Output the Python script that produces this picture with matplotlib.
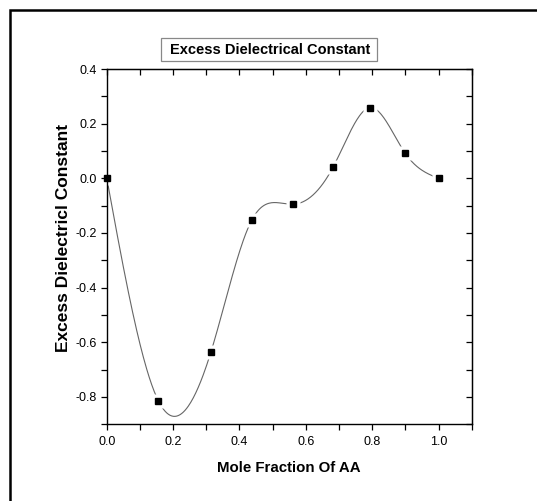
import numpy as np
import matplotlib; matplotlib.use("Agg")
import matplotlib.pyplot as plt
from matplotlib.patches import Rectangle
from matplotlib.ticker import MultipleLocator, FormatStrFormatter

# data
mole_frac = [0.0, 0.155, 0.314, 0.437, 0.562, 0.683, 0.794, 0.900, 1.0]
excess_eps = [0.0, -0.813, -0.635, -0.153, -0.095, 0.043, 0.259, 0.091, 0.0]
TITLE = "Excess Dielectrical Constant"
XLAB = "Mole Fraction Of AA"
YLAB = "Excess Dielectricl Constant"

FONT = "Liberation Sans"
plt.rcParams["axes.unicode_minus"] = False

def natural_spline(x, y, n=400):
    x = np.asarray(x, float); y = np.asarray(y, float)
    h = np.diff(x); k = len(x)
    A = np.zeros((k, k)); b = np.zeros(k)
    A[0, 0] = A[-1, -1] = 1
    for i in range(1, k - 1):
        A[i, i-1] = h[i-1]; A[i, i] = 2*(h[i-1]+h[i]); A[i, i+1] = h[i]
        b[i] = 6*((y[i+1]-y[i])/h[i] - (y[i]-y[i-1])/h[i-1])
    M = np.linalg.solve(A, b)
    xs = np.linspace(x[0], x[-1], n)
    j = np.clip(np.searchsorted(x, xs) - 1, 0, k - 2)
    hj = h[j]; a = x[j+1]-xs; c = xs-x[j]
    ys = (M[j]*a**3/(6*hj) + M[j+1]*c**3/(6*hj)
          + (y[j]/hj - M[j]*hj/6)*a + (y[j+1]/hj - M[j+1]*hj/6)*c)
    return xs, ys

W, H = 537, 501
fig = plt.figure(figsize=(W/100, H/100), dpi=100)
ax = fig.add_axes([106.8/W, 1-424.3/H, (471.7-106.8)/W, (424.3-69)/H])

xs, ys = natural_spline(mole_frac, excess_eps)
ax.plot(xs, ys, color="#666666", lw=0.8, zorder=1)
# white halo gives the Origin-style gap around symbols
ax.plot(mole_frac, excess_eps, ls="none", marker="s", ms=9.5, mfc="white", mec="none", zorder=1.5)
ax.plot(mole_frac, excess_eps, ls="none", marker="s", ms=5, mfc="black", mec="black", zorder=3, clip_on=False)

ax.set_xlim(0, 1.1); ax.set_ylim(-0.9, 0.4)
ax.xaxis.set_major_locator(MultipleLocator(0.2)); ax.xaxis.set_minor_locator(MultipleLocator(0.1))
ax.yaxis.set_major_locator(MultipleLocator(0.2)); ax.yaxis.set_minor_locator(MultipleLocator(0.1))
ax.xaxis.set_major_formatter(FormatStrFormatter("%.1f"))
ax.yaxis.set_major_formatter(FormatStrFormatter("%.1f"))
for s in ax.spines.values(): s.set_linewidth(1.0)
ax.tick_params(which="both", direction="out", length=4, width=0.9, top=False, right=False)
ax.tick_params(axis="x", which="major", pad=4.5)
ax.tick_params(axis="y", which="major", pad=3)
for lab in ax.get_xticklabels() + ax.get_yticklabels():
    lab.set_fontfamily(FONT); lab.set_fontsize(9)
# inward ticks on top/right
ax2 = ax.secondary_xaxis("top"); ax3 = ax.secondary_yaxis("right")
for sa, axis in ((ax2, ax2.xaxis), (ax3, ax3.yaxis)):
    axis.set_major_locator(MultipleLocator(0.1))
    sa.tick_params(direction="in", length=4, width=0.9, labelsize=0)
    axis.set_major_formatter(plt.NullFormatter())

fig.text(289/W, 1-467.5/H, XLAB, ha="center", va="center", fontfamily=FONT,
         fontweight="bold", fontsize=10.8)
fig.text(63.8/W, 1-238/H, YLAB, ha="center", va="center", rotation=90,
         fontfamily=FONT, fontweight="bold", fontsize=12.5)

# title box
fig.patches.append(Rectangle((161/W, 1-61/H), (376.7-161)/W, (61-37.7)/H,
                             transform=fig.transFigure, fill=False, ec="#888888", lw=0.9))
fig.text(270.5/W, 1-50.3/H, TITLE, ha="center", va="center", fontfamily=FONT,
         fontweight="bold", fontsize=10.5)

# outer frame, open at right and bottom
fig.patches.append(Rectangle((10/W, -0.1), 1.2, 1-10/H+0.1, transform=fig.transFigure,
                             fill=False, ec="black", lw=1.8))

fig.savefig("out.png", dpi=100)
